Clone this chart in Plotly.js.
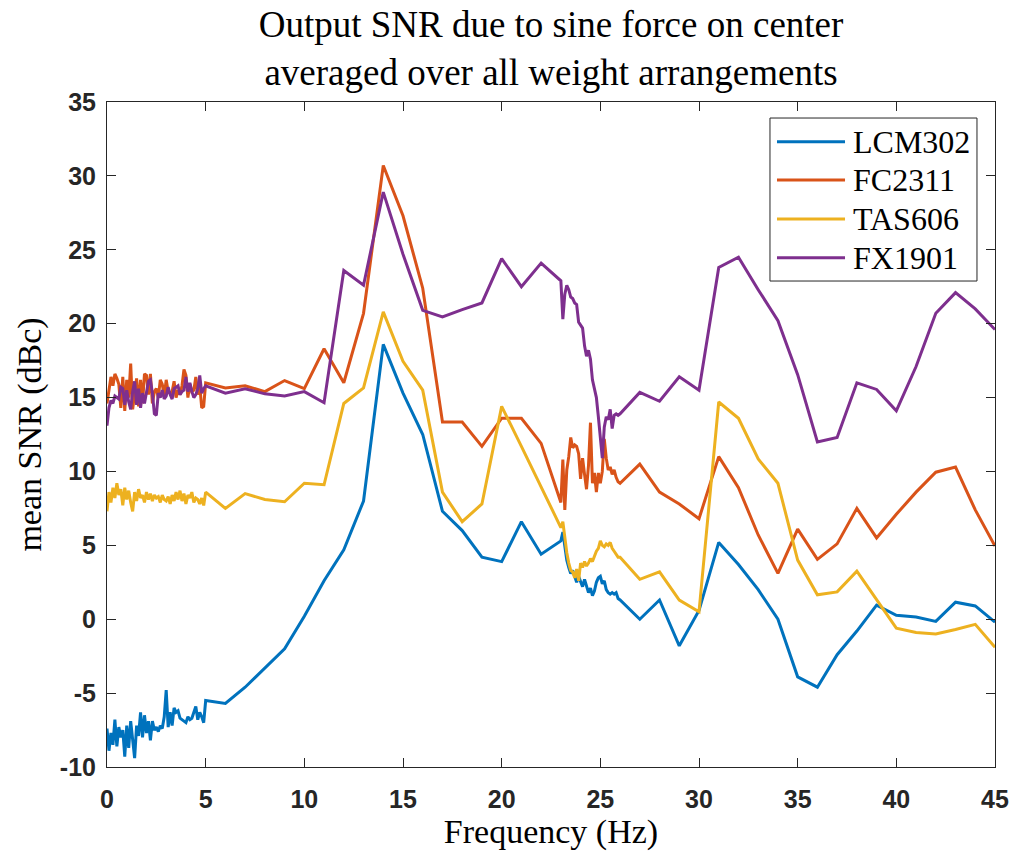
<!DOCTYPE html>
<html>
<head>
<meta charset="utf-8">
<script src="https://cdn.plot.ly/plotly-3.0.1.min.js"></script>
<style>
  html, body { margin: 0; padding: 0; background: #fff; }
  #chart { width: 1013px; height: 852px; }
</style>
</head>
<body>
<div id="chart"></div>
<script>
// Frequency grid pieces (Hz): fine sweep 0–5, 1 Hz steps 6–22, fine sweep 23–26, 1 Hz steps 27–45
function sweep(a, b, step) {
  const out = [];
  const n = Math.round((b - a) / step);
  for (let i = 0; i <= n; i++) out.push(Math.round((a + i * step) * 10) / 10);
  return out;
}
const freqLow = sweep(0, 5, 0.1);
const freqMid = [6, 7, 8, 9, 10, 11, 12, 13, 14, 15, 16, 17, 18, 19, 20, 21, 22];
const freqDense = sweep(23, 26, 0.1);
const freqHigh = [27, 28, 29, 30, 31, 32, 33, 34, 35, 36, 37, 38, 39, 40, 41, 42, 43, 44, 45];

const seriesNames = ['LCM302', 'FC2311', 'TAS606', 'FX1901'];
const seriesColors = ['#0072BD', '#D95319', '#EDB120', '#7E2F8E'];

// LCM302 mean SNR (dBc)
const lcmLow = [-7.4, -8.9, -7.7, -8.5, -6.8, -8.6, -7.3, -8.0, -7.5, -9.3,
  -7.2, -8.7, -6.9, -8.3, -9.4, -7.2, -7.9, -6.3, -8.0, -6.5,
  -7.7, -6.9, -8.2, -6.9, -7.5, -7.3, -7.6, -7.2, -7.4, -6.6,
  -4.8, -7.3, -6.3, -7.2, -6.0, -6.3, -6.2, -6.7, -6.8, -6.9,
  -7.0, -6.6, -6.8, -6.7, -6.3, -5.9, -6.8, -6.3, -6.6, -7.0, -5.5];
const lcmMid = [-5.7, -4.6, -3.3, -2.0, 0.2, 2.6, 4.7, 8.0, 18.6, 15.3, 12.5, 7.3, 6.0, 4.2, 3.9, 6.6, 4.4];
const lcmDense = [5.3, 5.9, 4.9, 4.0, 3.5, 3.1, 3.3, 2.9, 2.5, 2.9,
  2.5, 2.2, 2.7, 2.3, 1.8, 2.1, 1.6, 1.9, 2.5, 2.8,
  2.9, 2.4, 2.6, 2.0, 1.8, 1.7, 1.8, 1.7, 1.8, 1.4, 1.3];
const lcmHigh = [0.0, 1.3, -1.8, 0.6, 5.2, 3.7, 2.0, 0.0, -3.9, -4.6, -2.4, -0.8, 0.95, 0.27, 0.15, -0.15, 1.15, 0.9, -0.2];

// FC2311 mean SNR (dBc)
const fcLow = [14.6, 15.4, 16.4, 15.8, 16.6, 16.3, 15.9, 14.3, 16.4, 14.1,
  16.2, 15.0, 17.3, 14.2, 15.5, 16.3, 14.4, 16.2, 14.6, 16.6,
  16.5, 15.2, 16.6, 14.6, 15.4, 15.6, 15.0, 16.2, 15.9, 15.1,
  16.2, 15.4, 15.3, 15.4, 16.1, 15.0, 15.5, 15.2, 15.8, 16.9,
  16.5, 15.0, 15.9, 15.4, 15.5, 16.4, 15.2, 15.8, 14.3, 14.4, 16.0];
const fcMid = [15.65, 15.8, 15.4, 16.15, 15.6, 18.3, 16.0, 20.7, 30.7, 27.3, 22.4, 13.35, 13.35, 11.7, 13.6, 13.6, 11.9];
const fcDense = [7.9, 10.8, 7.4, 10.1, 11.0, 12.3, 11.6, 11.8, 11.7, 11.2,
  9.5, 10.9, 9.8, 8.8, 10.4, 13.3, 9.2, 9.9, 8.6, 9.9,
  9.2, 10.0, 12.2, 10.9, 10.1, 10.3, 9.8, 10.1, 9.6, 9.3, 9.2];
const fcHigh = [10.5, 8.6, 7.8, 6.8, 11.0, 8.9, 5.7, 3.1, 6.1, 4.05, 5.1, 7.5, 5.5, 7.1, 8.6, 9.95, 10.3, 7.4, 4.95];

// TAS606 mean SNR (dBc)
const tasLow = [7.3, 8.6, 7.9, 8.9, 8.2, 9.2, 8.4, 8.8, 7.7, 8.9,
  8.1, 8.7, 7.9, 7.3, 8.6, 8.0, 8.8, 8.2, 8.4, 7.9,
  8.6, 8.1, 8.5, 8.0, 8.4, 8.2, 8.3, 7.9, 8.4, 8.1,
  8.0, 8.3, 7.8, 8.4, 8.0, 8.6, 8.1, 8.7, 8.0, 8.5,
  7.8, 8.4, 8.2, 8.6, 7.9, 8.2, 8.1, 7.8, 8.2, 7.7, 8.6];
const tasMid = [7.5, 8.5, 8.1, 7.95, 9.2, 9.1, 14.6, 15.65, 20.8, 17.45, 15.5, 8.6, 6.6, 7.8, 14.4, 11.7, 8.9];
const tasDense = [6.2, 6.6, 5.5, 4.5, 3.8, 3.3, 3.2, 2.8, 3.4, 2.6,
  3.8, 3.5, 3.9, 3.6, 3.8, 4.1, 3.9, 4.3, 4.6, 4.8,
  5.3, 5.0, 4.9, 5.1, 5.0, 5.2, 4.8, 4.6, 4.4, 4.2, 4.2];
const tasHigh = [2.7, 3.2, 1.3, 0.5, 14.7, 13.6, 10.85, 9.2, 4.0, 1.65, 1.85, 3.25, 1.35, -0.6, -0.9, -1.0, -0.7, -0.35, -1.9];

// FX1901 mean SNR (dBc)
const fxLow = [13.1, 14.3, 14.8, 14.6, 15.1, 15.0, 14.9, 15.7, 15.6, 14.5,
  15.5, 14.7, 14.2, 15.4, 16.1, 14.5, 15.6, 14.3, 15.3, 14.6,
  15.3, 16.1, 16.2, 15.3, 13.9, 13.8, 15.3, 15.0, 15.5, 14.9,
  15.1, 15.7, 15.2, 14.9, 15.6, 15.7, 15.8, 15.2, 15.4, 15.5,
  16.4, 15.4, 16.0, 15.4, 15.0, 15.2, 15.6, 16.5, 15.3, 15.6, 15.8];
const fxMid = [15.3, 15.6, 15.25, 15.1, 15.4, 14.65, 23.6, 22.6, 28.9, 24.7, 20.9, 20.45, 20.95, 21.4, 24.4, 22.5, 24.1];
const fxDense = [22.9, 20.3, 22.0, 22.6, 22.3, 21.8, 21.7, 21.4, 21.3, 20.1,
  19.9, 19.7, 18.5, 17.8, 18.2, 17.6, 16.2, 15.6, 15.0, 13.7,
  12.0, 10.9, 13.0, 13.7, 13.5, 14.2, 12.9, 13.8, 13.9, 13.8, 13.9];
const fxHigh = [15.35, 14.75, 16.4, 15.5, 23.8, 24.5, 22.3, 20.2, 16.55, 12.0, 12.3, 16.0, 15.55, 14.1, 17.1, 20.7, 22.1, 21.0, 19.6];

// Axis ticks
const xTickVals = [0, 5, 10, 15, 20, 25, 30, 35, 40, 45];
const xTickText = ['0', '5', '10', '15', '20', '25', '30', '35', '40', '45'];
const yTickVals = [-10, -5, 0, 5, 10, 15, 20, 25, 30, 35];
const yTickText = ['-10', '-5', '0', '5', '10', '15', '20', '25', '30', '35'];

const freq = [].concat(freqLow, freqMid, freqDense, freqHigh);
const seriesValues = [
  [].concat(lcmLow, lcmMid, lcmDense, lcmHigh),
  [].concat(fcLow, fcMid, fcDense, fcHigh),
  [].concat(tasLow, tasMid, tasDense, tasHigh),
  [].concat(fxLow, fxMid, fxDense, fxHigh)
];

const traces = seriesNames.map((name, i) => ({
  type: 'scatter',
  mode: 'lines',
  name: name,
  x: freq,
  y: seriesValues[i],
  line: { color: seriesColors[i], width: 3 },
  showlegend: false
}));

const serif = 'Liberation Serif, DejaVu Serif, serif';
const axisCol = '#262626';

// Legend box drawn in paper space, top right of the axes
const legX0 = 0.7466, legX1 = 0.9797, legY0 = 0.7308, legY1 = 0.9759;
const legRowsY = [0.9403, 0.8827, 0.8241, 0.7659];
const legLineX0 = 0.7545, legLineX1 = 0.8311, legTextX = 0.8375;

const shapes = [{
  type: 'rect', xref: 'paper', yref: 'paper',
  x0: legX0, x1: legX1, y0: legY0, y1: legY1,
  line: { color: axisCol, width: 1 }, fillcolor: '#ffffff'
}];
const annotations = [];
seriesNames.forEach((name, i) => {
  shapes.push({
    type: 'line', xref: 'paper', yref: 'paper',
    x0: legLineX0, x1: legLineX1, y0: legRowsY[i], y1: legRowsY[i],
    line: { color: seriesColors[i], width: 3 }
  });
  annotations.push({
    xref: 'paper', yref: 'paper', x: legTextX, y: legRowsY[i],
    xanchor: 'left', yanchor: 'middle', showarrow: false,
    text: name, font: { family: serif, size: 32, color: '#000' }
  });
});

const tickFont = { family: 'Liberation Sans, Arial, sans-serif', size: 25, color: axisCol, weight: 'bold' };

const layout = {
  width: 1013, height: 852,
  margin: { l: 107, r: 18, t: 102, b: 85 },
  paper_bgcolor: '#ffffff', plot_bgcolor: '#ffffff',
  title: {
    text: 'Output SNR due to sine force on center<br>averaged over all weight arrangements',
    font: { family: serif, size: 37, color: '#000' },
    x: 0.5, xref: 'paper', xanchor: 'center',
    y: 0.957, yref: 'container', yanchor: 'middle'
  },
  xaxis: {
    range: [0, 45], tickvals: xTickVals, ticktext: xTickText,
    ticks: 'inside', ticklen: 9, tickwidth: 1, tickcolor: axisCol,
    showline: true, linecolor: axisCol, linewidth: 1, mirror: 'allticks',
    showgrid: false, zeroline: false, tickfont: tickFont, ticklabelstandoff: 10,
    title: { text: 'Frequency (Hz)', font: { family: serif, size: 34, color: '#000' }, standoff: 6 }
  },
  yaxis: {
    range: [-10, 35], tickvals: yTickVals, ticktext: yTickText,
    ticks: 'inside', ticklen: 9, tickwidth: 1, tickcolor: axisCol,
    showline: true, linecolor: axisCol, linewidth: 1, mirror: 'allticks',
    showgrid: false, zeroline: false, tickfont: tickFont, ticklabelstandoff: 5,
    title: { text: 'mean SNR (dBc)', font: { family: serif, size: 34, color: '#000' }, standoff: 7 }
  },
  shapes: shapes,
  annotations: annotations,
  showlegend: false
};

Plotly.newPlot('chart', traces, layout, { displayModeBar: false, staticPlot: true });
</script>
</body>
</html>
